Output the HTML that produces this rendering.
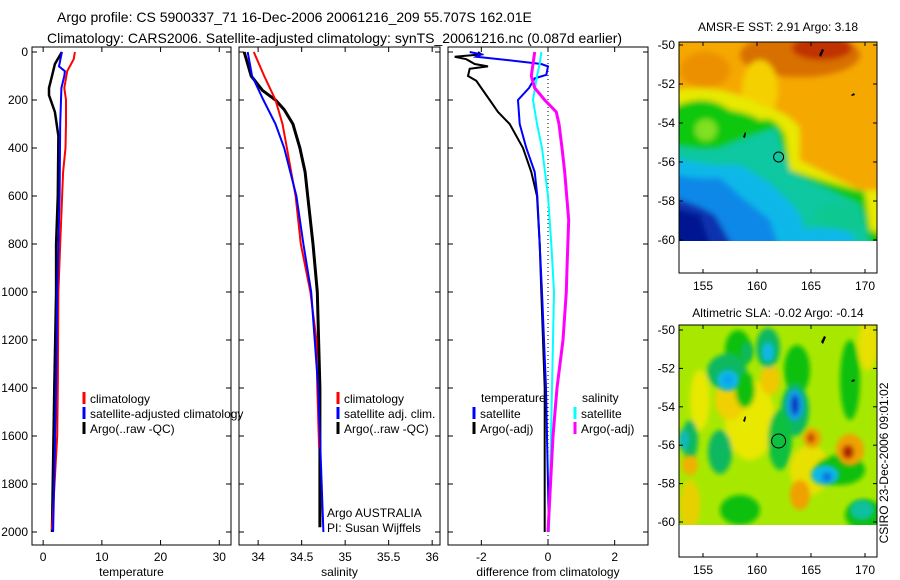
<!DOCTYPE html>
<html><head><meta charset="utf-8">
<style>
html,body{margin:0;padding:0;background:#fff;}
svg{display:block;font-family:"Liberation Sans",sans-serif;}
</style></head>
<body>
<svg id="fig" width="900" height="580" viewBox="0 0 900 580" xmlns="http://www.w3.org/2000/svg">
<defs>
<filter id="bl" x="-20%" y="-20%" width="140%" height="140%"><feGaussianBlur stdDeviation="3"/></filter>
<filter id="bl2" x="-20%" y="-20%" width="140%" height="140%"><feGaussianBlur stdDeviation="2.5"/></filter>
<clipPath id="c1"><rect x="679" y="42" width="198" height="199"/></clipPath>
<clipPath id="c2"><rect x="679" y="325" width="198" height="200"/></clipPath>
</defs>
<text x="57" y="22" font-size="14">Argo profile: CS 5900337_71 16-Dec-2006 20061216_209 55.707S 162.01E</text>
<text x="47" y="43" font-size="14">Climatology: CARS2006. Satellite-adjusted climatology: synTS_20061216.nc (0.087d earlier)</text>

<g id="p1"></g>
<g id="p2"></g>
<g id="p3"></g>

<!-- Map 1 SST -->
<g>
<text x="778" y="31" font-size="12" text-anchor="middle">AMSR-E SST: 2.91 Argo: 3.18</text>
<g clip-path="url(#c1)">
<rect x="679" y="42" width="198" height="199" fill="#f5a800"/>
<g filter="url(#bl)">
<ellipse cx="800" cy="55" rx="60" ry="22" fill="#d87000"/>
<ellipse cx="822" cy="48" rx="30" ry="12" fill="#c03000"/>
<ellipse cx="705" cy="70" rx="25" ry="18" fill="#ec9000"/>
<ellipse cx="760" cy="90" rx="18" ry="30" fill="#f5d000"/>
<path d="M660 92 Q720 80 760 105 Q790 112 800 128 L800 160 Q830 175 860 190 L900 190 L900 260 L660 260 Z" fill="#e8e800"/>
<path d="M660 115 Q700 88 730 110 Q750 113 760 120 Q775 115 785 135 L790 170 Q830 183 865 192 L870 230 L900 240 L900 260 L660 260 Z" fill="#10c810"/>
<ellipse cx="706" cy="130" rx="11" ry="11" fill="#80e020"/>
<path d="M660 142 Q700 152 720 148 L745 138 L776 128 L790 172 Q830 190 860 205 L870 245 L660 250 Z" fill="#10c8a0"/>
<path d="M660 152 Q700 168 740 165 L768 182 Q790 200 800 215 L810 250 L660 250 Z" fill="#10b8e8"/>
<path d="M660 170 Q690 180 720 178 L745 200 L770 220 L780 250 L660 250 Z" fill="#1088e8"/>
<path d="M660 195 Q690 200 715 215 L735 250 L660 250 Z" fill="#1030b0"/>
<path d="M660 205 L700 215 L712 250 L660 250 Z" fill="#001890"/>
<ellipse cx="840" cy="218" rx="25" ry="15" fill="#10c890"/>
<ellipse cx="820" cy="238" rx="35" ry="10" fill="#10b8e8"/>
</g>
<path d="M819 55 l3 -6 l2 1 l-3 7z" fill="#000"/>
<path d="M851 95 l3 -2 l1 2 l-3 1z" fill="#000"/>
<path d="M743 137 l2 -5 l1 1 l-1 5z" fill="#000"/>
<circle cx="778.6" cy="157" r="5" fill="none" stroke="#000"/>
</g>
<rect x="679" y="42" width="198" height="231" fill="none" stroke="#000"/>
<g id="m1t"></g>
</g>

<!-- Map 2 SLA -->
<g>
<text x="778" y="317" font-size="12" text-anchor="middle">Altimetric SLA: -0.02 Argo: -0.14</text>
<g clip-path="url(#c2)">
<rect x="679" y="325" width="198" height="200" fill="#a8e800"/>
<g filter="url(#bl2)">
<ellipse cx="750" cy="420" rx="25" ry="40" fill="#e8e800"/>
<ellipse cx="730" cy="400" rx="15" ry="20" fill="#f0d000"/>
<ellipse cx="770" cy="380" rx="10" ry="15" fill="#f0c800"/>
<ellipse cx="700" cy="400" rx="10" ry="30" fill="#e8e800"/>
<ellipse cx="810" cy="470" rx="20" ry="25" fill="#e8e000"/>
<ellipse cx="800" cy="495" rx="10" ry="15" fill="#f0a000"/>
<ellipse cx="690" cy="505" rx="10" ry="25" fill="#e8d000"/>
<ellipse cx="868" cy="345" rx="10" ry="25" fill="#e8e000"/>
<ellipse cx="738" cy="350" rx="13" ry="20" fill="#10c010"/>
<ellipse cx="727" cy="372" rx="20" ry="18" fill="#10b860"/>
<ellipse cx="745" cy="390" rx="10" ry="18" fill="#10c010"/>
<ellipse cx="768" cy="348" rx="12" ry="20" fill="#10b860"/>
<ellipse cx="797" cy="370" rx="13" ry="25" fill="#10c010"/>
<ellipse cx="795" cy="410" rx="14" ry="26" fill="#10b860"/>
<ellipse cx="850" cy="380" rx="10" ry="40" fill="#10c010"/>
<ellipse cx="840" cy="470" rx="25" ry="15" fill="#10c010"/>
<ellipse cx="865" cy="515" rx="20" ry="15" fill="#10c010"/>
<ellipse cx="720" cy="452" rx="12" ry="22" fill="#10b860"/>
<ellipse cx="690" cy="440" rx="8" ry="20" fill="#10b860"/>
<ellipse cx="780" cy="440" rx="12" ry="30" fill="#10c040"/>
<ellipse cx="740" cy="510" rx="20" ry="15" fill="#10c010"/>
</g>
<g filter="url(#bl2)">
<ellipse cx="728" cy="380" rx="11" ry="10" fill="#10b8e8"/>
<ellipse cx="728" cy="380" rx="5" ry="5" fill="#10a0f0"/>
<ellipse cx="768" cy="352" rx="6" ry="10" fill="#10b8e8"/>
<ellipse cx="747" cy="352" rx="6" ry="10" fill="#10b860"/>
<ellipse cx="795" cy="405" rx="9" ry="16" fill="#10a0e8"/>
<ellipse cx="795" cy="405" rx="4" ry="10" fill="#1030c0"/>
<ellipse cx="825" cy="475" rx="14" ry="10" fill="#10b8e8"/>
<ellipse cx="827" cy="477" rx="5" ry="5" fill="#1070e0"/>
<ellipse cx="862" cy="510" rx="12" ry="10" fill="#10c0a0"/>
<ellipse cx="812" cy="438" rx="9" ry="10" fill="#f0a000"/>
<ellipse cx="811" cy="438" rx="4" ry="5" fill="#c04000"/>
<ellipse cx="850" cy="450" rx="14" ry="16" fill="#f0a000"/>
<ellipse cx="848" cy="452" rx="6" ry="7" fill="#b02000"/>
<ellipse cx="690" cy="465" rx="8" ry="10" fill="#f0b000"/>
<ellipse cx="684" cy="440" rx="5" ry="10" fill="#10b8c0"/>
</g>
<path d="M821 342 l3 -6 l2 1 l-3 7z" fill="#000"/>
<path d="M851 381 l3 -2 l1 2 l-3 1z" fill="#000"/>
<path d="M743 421 l2 -5 l1 1 l-1 5z" fill="#000"/>
<circle cx="778.6" cy="441" r="7" fill="none" stroke="#000"/>
</g>
<rect x="679" y="325" width="198" height="232" fill="none" stroke="#000"/>
<g id="m2t"></g>
</g>
<text transform="translate(888,463) rotate(-90)" font-size="12" text-anchor="middle">CSIRO 23-Dec-2006 09:01:02</text>
</svg>
<script>
// ---- data ----
const depthTicks = [0,200,400,600,800,1000,1200,1400,1600,1800,2000];
const tempTicks = [0,10,20,30];
const salTicks = [34,34.5,35,35.5,36];
const diffTicks = [-2,0,2];
const tClimD = [0,30,80,150,200,300,400,500,800,1000,1400,1600,1990];
const tClimV = [5.4,5.2,4.1,3.6,3.9,3.9,3.8,3.4,2.9,2.6,2.5,2.4,1.5];
const tSatD = [0,60,80,100,150,300,600,1000,1400,2000];
const tSatV = [3.2,2.7,3.7,3.6,3.1,2.9,2.8,2.4,2.2,1.7];
const tArgoD = [0,50,100,150,180,250,350,600,800,1000,1400,2000];
const tArgoV = [3.2,2.0,1.5,1.0,1.0,2.0,2.6,2.5,2.2,2.2,1.9,1.5];
const sClimD = [0,100,200,250,300,400,500,600,800,1000,1200,1400,1650];
const sClimV = [33.95,34.07,34.2,34.24,34.28,34.33,34.38,34.43,34.49,34.6,34.67,34.68,34.7];
const sSatD = [0,100,200,300,400,500,600,800,1000,1400,2000];
const sSatV = [33.88,33.93,34.06,34.2,34.3,34.37,34.44,34.52,34.61,34.69,34.75];
const sArgoD = [0,100,160,200,240,300,400,500,600,800,1000,1400,1980];
const sArgoV = [33.84,33.92,34.05,34.2,34.3,34.4,34.48,34.54,34.57,34.63,34.68,34.71,34.71];
const dTArgoD = [0,10,20,30,50,60,70,100,120,150,200,250,300,400,500,600,800,1000,1400,2000];
const dTArgoV = [-2.1,-2.0,-2.8,-2.45,-2.2,-1.8,-2.35,-2.4,-2.15,-2.0,-1.75,-1.5,-1.15,-0.75,-0.5,-0.33,-0.25,-0.2,-0.1,-0.1];
const dTSatD = [0,10,20,30,50,60,95,110,150,200,300,400,500,600,800,1000,1400,2000];
const dTSatV = [-2.35,-2.0,-2.15,-1.45,-0.2,0,-0.05,-0.4,-0.57,-0.9,-0.85,-0.65,-0.4,-0.32,-0.25,-0.18,-0.06,0.03];
const dSSatD = [0,50,100,200,300,400,600,800,1000,1400,2000];
const dSSatV = [-0.2,-0.25,-0.33,-0.45,-0.33,-0.18,0,0.1,0.18,0.12,0.03];
const dSArgoD = [0,100,150,200,250,300,400,500,700,900,1000,1200,1400,1600,2000];
const dSArgoV = [-0.4,-0.5,-0.4,-0.1,0.25,0.33,0.42,0.5,0.62,0.57,0.55,0.45,0.27,0.15,0];
const lonTicks = [155,160,165,170];
const latTicks = [-50,-52,-54,-56,-58,-60];

// ---- helpers ----
const NS='http://www.w3.org/2000/svg';
function mk(tag, attrs, parent, txt){const e=document.createElementNS(NS,tag);for(const k in attrs)e.setAttribute(k,attrs[k]);if(txt!==undefined)e.textContent=txt;parent.appendChild(e);return e;}
const yD = d => 52 + d*0.24;
const panels = {
  p1:{x0:32,x1:231,v0:-1.9,v1:32},
  p2:{x0:239,x1:440,v0:33.78,v1:36.09},
  p3:{x0:448,x1:648,v0:-3,v1:3}
};
function xs(p,v){const P=panels[p];return P.x0+(v-P.v0)/(P.v1-P.v0)*(P.x1-P.x0);}

function axes(p, xt, xlabel, yLabels){
  const P=panels[p], g=document.getElementById(p);
  const fr=mk('rect',{x:P.x0,y:47,width:P.x1-P.x0,height:498,fill:'none',stroke:'#000'},g);
  
  
  depthTicks.forEach(d=>{
    const y=yD(d);
    mk('line',{x1:P.x0,x2:P.x0+5,y1:y,y2:y,stroke:'#000'},g);
    mk('line',{x1:P.x1-5,x2:P.x1,y1:y,y2:y,stroke:'#000'},g);
    if(yLabels){const t=mk('text',{x:P.x0-4,y:y+4,'font-size':12,'text-anchor':'end'},g,String(d));
      
      }
  });
  xt.forEach(v=>{
    const x=xs(p,v);
    mk('line',{x1:x,x2:x,y1:545,y2:540,stroke:'#000'},g);
    mk('line',{x1:x,x2:x,y1:47,y2:52,stroke:'#000'},g);
    const t=mk('text',{x:x,y:561,'font-size':12,'text-anchor':'middle'},g,String(v));
    
    
  });
  const xl=mk('text',{x:(P.x0+P.x1)/2,y:576,'font-size':12,'text-anchor':'middle'},g,xlabel);
  
  
}
function line(p, D, V, color, w, name){
  const pts=D.map((d,i)=>xs(p,V[i]).toFixed(1)+','+yD(d).toFixed(1)).join(' ');
  const l=mk('polyline',{points:pts,fill:'none',stroke:color,'stroke-width':w,'stroke-linejoin':'miter'},document.getElementById(p));
  
  
}
function legend(p, x, y, items){
  const g=document.getElementById(p);
  items.forEach((it,i)=>{
    const yy=y+i*15;
    mk('line',{x1:x,x2:x,y1:yy-6,y2:yy+6,stroke:it[1],'stroke-width':3},g);
    const t=mk('text',{x:x+6,y:yy+5,'font-size':12},g,it[0]);
    
    
  });
}

axes('p1',tempTicks,'temperature',true);
axes('p2',salTicks,'salinity',false);
axes('p3',diffTicks,'difference from climatology',false);
const z=mk('line',{x1:xs('p3',0),x2:xs('p3',0),y1:47,y2:545,stroke:'#000','stroke-dasharray':'1,3'},document.getElementById('p3'));



line('p1',tArgoD,tArgoV,'#000',2.5,'temp-argo-line');
line('p1',tClimD,tClimV,'#f00',2,'temp-climatology-line');
line('p1',tSatD,tSatV,'#00f',2,'temp-satellite-line');
line('p2',sArgoD,sArgoV,'#000',3,'sal-argo-line');
line('p2',sClimD,sClimV,'#f00',2,'sal-climatology-line');
line('p2',sSatD,sSatV,'#00f',2,'sal-satellite-line');
line('p3',dTArgoD,dTArgoV,'#000',2,'diff-temp-argo-line');
line('p3',dTSatD,dTSatV,'#00f',2,'diff-temp-satellite-line');
line('p3',dSSatD,dSSatV,'#0ff',2,'diff-sal-satellite-line');
line('p3',dSArgoD,dSArgoV,'#f0f',3,'diff-sal-argo-line');

legend('p1',84,398,[['climatology','#f00'],['satellite-adjusted climatology','#00f'],['Argo(..raw -QC)','#000']]);
legend('p2',338,398,[['climatology','#f00'],['satellite adj. clim.','#00f'],['Argo(..raw -QC)','#000']]);
(function(){const g=document.getElementById('p2');
 const a=mk('text',{x:327,y:517,'font-size':12},g,'Argo AUSTRALIA');
 const b=mk('text',{x:327,y:532,'font-size':12},g,'PI: Susan Wijffels');})();
(function(){const g=document.getElementById('p3');
 const a=mk('text',{x:481,y:402,'font-size':12},g,'temperature');
 const b=mk('text',{x:582,y:402,'font-size':12},g,'salinity');})();
legend('p3',474,413,[['satellite','#00f'],['Argo(-adj)','#000']]);
legend('p3',575,413,[['satellite','#0ff'],['Argo(-adj)','#f0f']]);

function mapAxes(id, top, bot, lat50, lat60){
  const g=document.getElementById(id);
  lonTicks.forEach(l=>{
    const x=703+(l-155)*10.8;
    mk('line',{x1:x,x2:x,y1:top,y2:top+4,stroke:'#000'},g);
    mk('line',{x1:x,x2:x,y1:bot,y2:bot-4,stroke:'#000'},g);
    const t=mk('text',{x:x,y:bot+17,'font-size':12,'text-anchor':'middle'},g,String(l));
    
    
  });
  latTicks.forEach(l=>{
    const y=lat50+(-50-l)/10*(lat60-lat50);
    mk('line',{x1:679,x2:683,y1:y,y2:y,stroke:'#000'},g);
    mk('line',{x1:877,x2:873,y1:y,y2:y,stroke:'#000'},g);
    const t=mk('text',{x:675,y:y+4,'font-size':12,'text-anchor':'end'},g,String(l));
    
    
  });
}
mapAxes('m1t',42,273,45,240);
mapAxes('m2t',325,557,330,522);
</script>
</body></html>
